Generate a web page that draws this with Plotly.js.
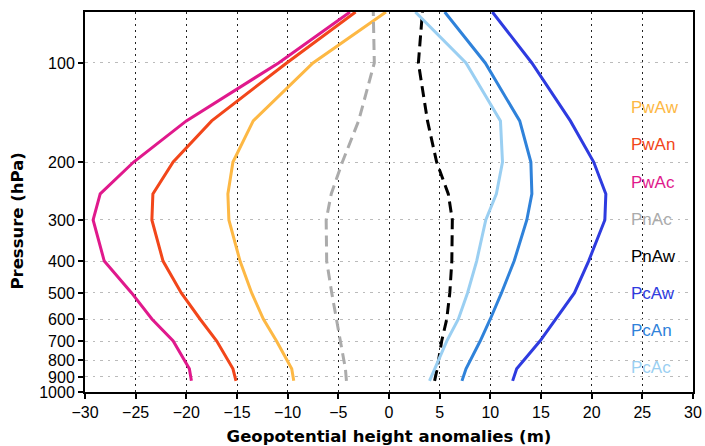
<!DOCTYPE html>
<html>
<head>
<meta charset="utf-8">
<script src="https://cdn.plot.ly/plotly-3.0.1.min.js"></script>
<style>html,body{margin:0;padding:0;background:#fff;}#chart{width:705px;height:446px;}</style>
</head>
<body>
<div id="chart"></div>
<script>
// Pressure levels (hPa)
const levels = [925, 850, 700, 600, 500, 400, 300, 250, 200, 150, 100, 70];

// Geopotential height anomalies (m) per experiment
const PwAw = [-9.4, -9.6, -11.1, -12.4, -13.55, -14.7, -15.8, -15.9, -15.4, -13.4, -7.5, -0.3];
const PwAn = [-15.1, -15.4, -17.0, -18.65, -20.5, -22.3, -23.4, -23.3, -21.3, -17.5, -10.1, -3.3];
const PwAc = [-19.5, -19.7, -21.3, -23.4, -25.4, -28.1, -29.2, -28.5, -25.2, -20.0, -10.9, -3.85];
const PnAc = [-4.2, -4.3, -4.8, -5.2, -5.65, -6.15, -6.2, -5.7, -4.6, -3.0, -1.45, -1.55];
const PnAw = [4.5, 4.75, 5.2, 5.7, 6.0, 6.2, 6.25, 5.85, 4.7, 3.8, 2.9, 3.3];
const PcAw = [12.2, 12.6, 14.9, 16.5, 18.3, 19.7, 21.3, 21.4, 20.2, 17.9, 14.1, 10.2];
const PcAn = [7.2, 7.6, 9.0, 10.0, 11.1, 12.35, 13.6, 14.1, 14.0, 12.9, 9.5, 5.5];
const PcAc = [4.0, 4.5, 5.7, 6.85, 7.75, 8.65, 9.55, 10.6, 11.2, 11.0, 7.6, 2.6];

const seriesNames = ["PwAw", "PwAn", "PwAc", "PnAc", "PnAw", "PcAw", "PcAn", "PcAc"];
const seriesValues = [PwAw, PwAn, PwAc, PnAc, PnAw, PcAw, PcAn, PcAc];

// Axis ticks
const xTicks = [-30, -25, -20, -15, -10, -5, 0, 5, 10, 15, 20, 25, 30];
const yTicks = [100, 200, 300, 400, 500, 600, 700, 800, 900, 1000];
const yTickText = ["100", "200", "300", "400", "500", "600", "700", "800", "900", "1000"];

// Styles
const colors = {
  PwAw: "#FDB844", PwAn: "#F2461A", PwAc: "#E0198C", PnAc: "#ABABAB",
  PnAw: "#000000", PcAw: "#2E3BE0", PcAn: "#2F82DA", PcAc: "#9ACFF2"
};
const dashes = { PnAc: "11px,6px", PnAw: "11px,6px" };

const traces = seriesNames.map((n, i) => ({
  type: "scatter",
  mode: "lines",
  name: n,
  x: seriesValues[i],
  y: levels,
  line: { color: colors[n], width: 3, dash: dashes[n] || "solid" },
  hoverinfo: "x+y+name",
  showlegend: false
}));

const labelY0 = 0.748, labelStep = 0.0977;
const annotations = seriesNames.map((n, i) => ({
  xref: "paper", yref: "paper",
  x: 0.895, y: labelY0 - i * labelStep,
  xanchor: "left", yanchor: "middle",
  text: n, showarrow: false,
  font: { family: "Liberation Sans, Arial, sans-serif", size: 17, color: colors[n] }
}));
annotations.push({
  xref: "paper", yref: "paper",
  x: -0.1125, y: 0.45, xanchor: "center", yanchor: "middle",
  textangle: -90, showarrow: false,
  text: "Pressure (hPa)",
  font: { family: "DejaVu Sans, sans-serif", size: 16.5, weight: "bold", color: "#000" }
});

const layout = {
  width: 705, height: 446,
  margin: { l: 85, r: 12, t: 12, b: 54 },
  paper_bgcolor: "#ffffff", plot_bgcolor: "#ffffff",
  showlegend: false,
  font: { family: "Liberation Sans, Arial, sans-serif", color: "#000" },
  xaxis: {
    range: [-30, 30],
    tickvals: xTicks,
    ticks: "outside", ticklen: 5, tickwidth: 2, tickcolor: "#000",
    showline: true, linewidth: 2, linecolor: "#000", mirror: true,
    showgrid: true, gridcolor: "#222", griddash: "1.5px,4.5px", gridwidth: 1,
    zeroline: false,
    tickfont: { size: 16, color: "#000" },
    title: { text: "Geopotential height anomalies (m)", standoff: 11,
             font: { family: "DejaVu Sans, sans-serif", size: 16.5, weight: "bold", color: "#000" } }
  },
  yaxis: {
    type: "log",
    range: [Math.log10(1000), Math.log10(70)],
    tickvals: yTicks, ticktext: yTickText,
    ticks: "outside", ticklen: 5, tickwidth: 2, tickcolor: "#000",
    showline: true, linewidth: 2, linecolor: "#000", mirror: true,
    showgrid: true, gridcolor: "#BBBBBB", griddash: "2.5px,5px", gridwidth: 1,
    zeroline: false,
    tickfont: { size: 16, color: "#000" }
  },
  annotations: annotations
};

Plotly.newPlot("chart", traces, layout, { displayModeBar: false, staticPlot: true });
</script>
</body>
</html>
